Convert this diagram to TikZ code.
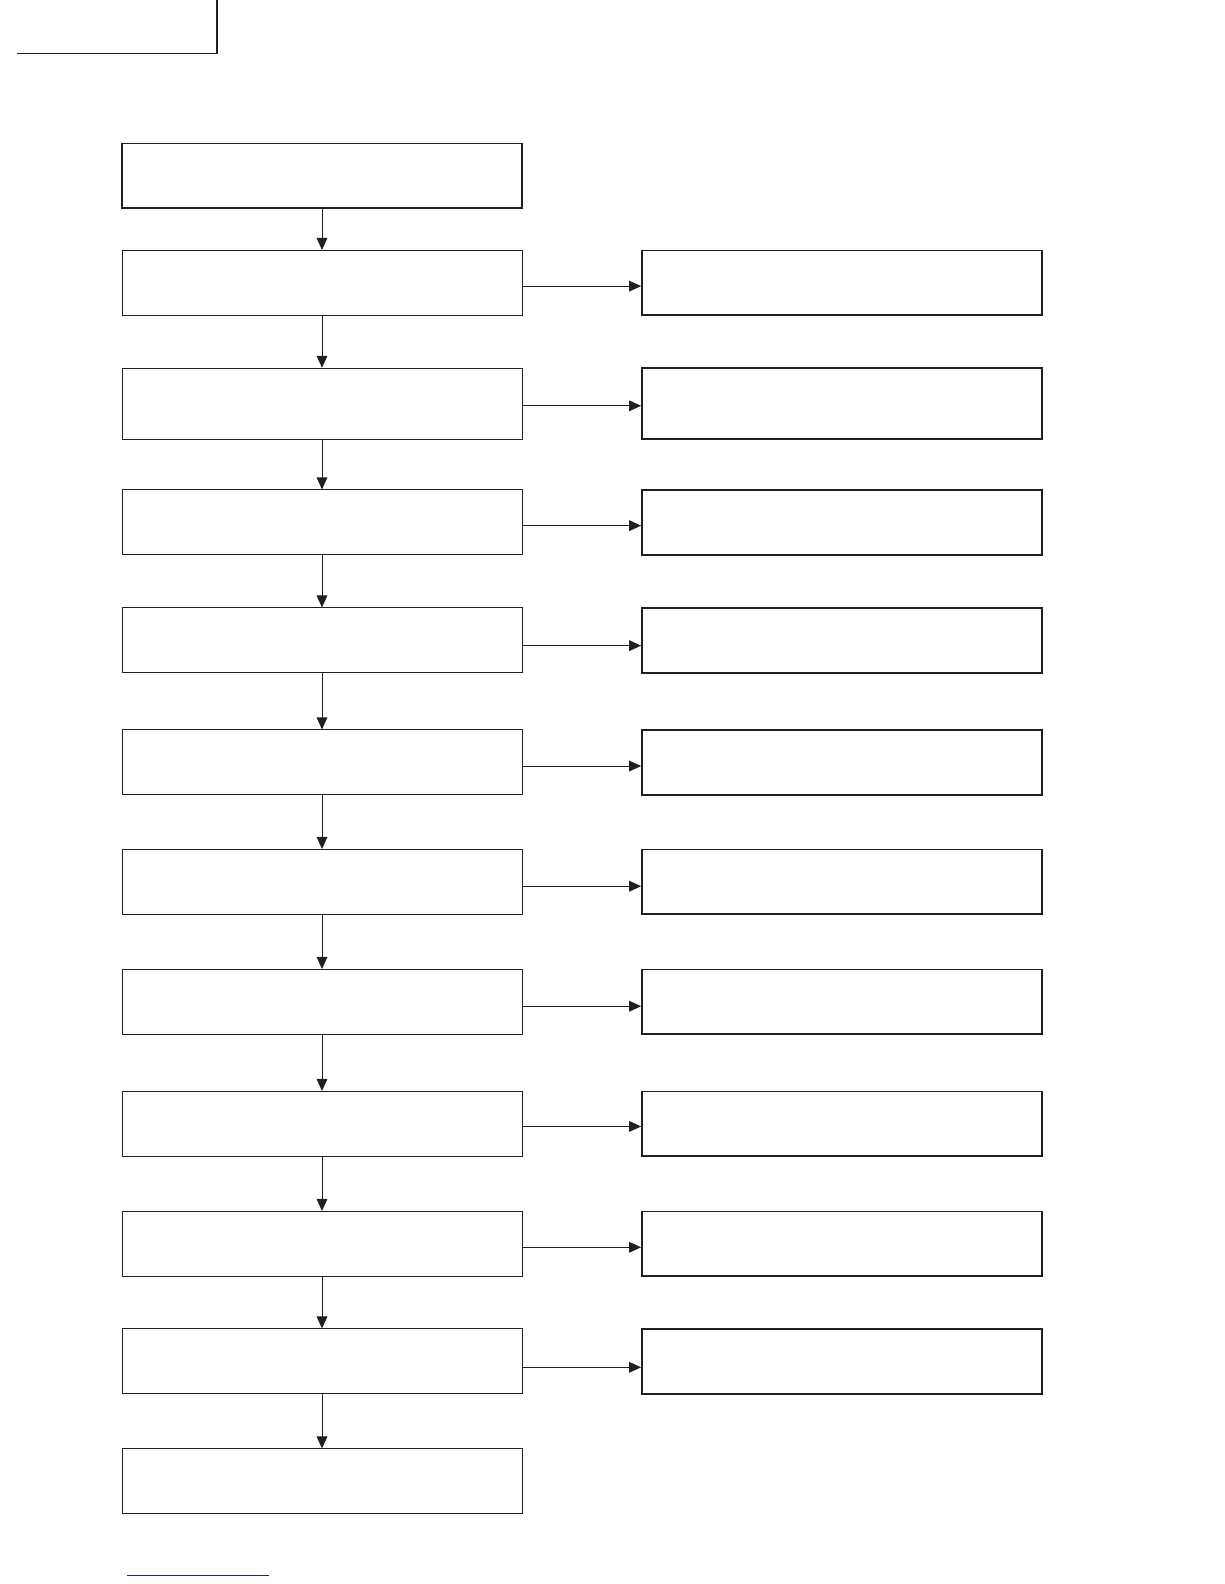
\documentclass[tikz,border=0pt]{standalone}
\usetikzlibrary{arrows.meta}
\definecolor{ink}{HTML}{231F20}
\definecolor{rule}{HTML}{1E1E96}
\begin{document}
\begin{tikzpicture}[x=0.75pt,y=-0.75pt,
    ink,line width=0.75pt,
    lbox/.style={draw,rectangle,inner sep=0pt,minimum width=300pt,minimum height=48.5pt,line width=0.75pt},
    rbox/.style={draw,rectangle,inner sep=0pt,minimum width=300pt,minimum height=48.5pt,line width=1.3pt},
    >={Triangle[length=9pt,width=8pt]}]
  \useasboundingbox (0,0) rectangle (1224,1584);
  % page corner mark and bottom rule
  \draw[line width=1pt] (16.5,53.7) -- (217,53.7) -- (217,0);
  \draw[rule,line width=0.8pt] (127,1575.3) -- (269,1575.3);
  % main column
  \path (322,175.7) node [lbox,line width=1.1pt](s1){};
  \path (322,282.8) node [lbox](s2){};
  \path (322,403.8) node [lbox,minimum height=53.25pt](s3){};
  \path (322,522.3) node [lbox](s4){};
  \path (322,640.3) node [lbox](s5){};
  \path (322,762.3) node [lbox](s6){};
  \path (322,881.8) node [lbox](s7){};
  \path (322,1001.8) node [lbox](s8){};
  \path (322,1123.8) node [lbox](s9){};
  \path (322,1243.8) node [lbox](s10){};
  \path (322,1361.3) node [lbox](s11){};
  \path (322,1481.3) node [lbox](s12){};
  % side column
  \path (842,282.8) node [rbox](r1){};
  \path (842,403.8) node [rbox,minimum height=53.25pt](r2){};
  \path (842,522.3) node [rbox](r3){};
  \path (842,640.3) node [rbox](r4){};
  \path (842,762.3) node [rbox](r5){};
  \path (842,881.8) node [rbox](r6){};
  \path (842,1001.8) node [rbox](r7){};
  \path (842,1123.8) node [rbox](r8){};
  \path (842,1243.8) node [rbox](r9){};
  \path (842,1361.3) node [rbox](r10){};
  % down arrows
  \draw[->] (s1) -- (s2);
  \draw[->] (s2) -- (s3);
  \draw[->] (s3) -- (s4);
  \draw[->] (s4) -- (s5);
  \draw[->] (s5) -- (s6);
  \draw[->] (s6) -- (s7);
  \draw[->] (s7) -- (s8);
  \draw[->] (s8) -- (s9);
  \draw[->] (s9) -- (s10);
  \draw[->] (s10) -- (s11);
  \draw[->] (s11) -- (s12);
  % side arrows, a little below the middle
  \draw[->] ([yshift=-2.5pt]s2.east) -- ([yshift=-2.5pt]r1.west);
  \draw[->] ([yshift=-1.5pt]s3.east) -- ([yshift=-1.5pt]r2.west);
  \draw[->] ([yshift=-2.5pt]s4.east) -- ([yshift=-2.5pt]r3.west);
  \draw[->] ([yshift=-4pt]s5.east) -- ([yshift=-4pt]r4.west);
  \draw[->] ([yshift=-2.8pt]s6.east) -- ([yshift=-2.8pt]r5.west);
  \draw[->] ([yshift=-3.3pt]s7.east) -- ([yshift=-3.3pt]r6.west);
  \draw[->] ([yshift=-3.3pt]s8.east) -- ([yshift=-3.3pt]r7.west);
  \draw[->] ([yshift=-2pt]s9.east) -- ([yshift=-2pt]r8.west);
  \draw[->] ([yshift=-2.6pt]s10.east) -- ([yshift=-2.6pt]r9.west);
  \draw[->] ([yshift=-4.5pt]s11.east) -- ([yshift=-4.5pt]r10.west);
\end{tikzpicture}
\end{document}
